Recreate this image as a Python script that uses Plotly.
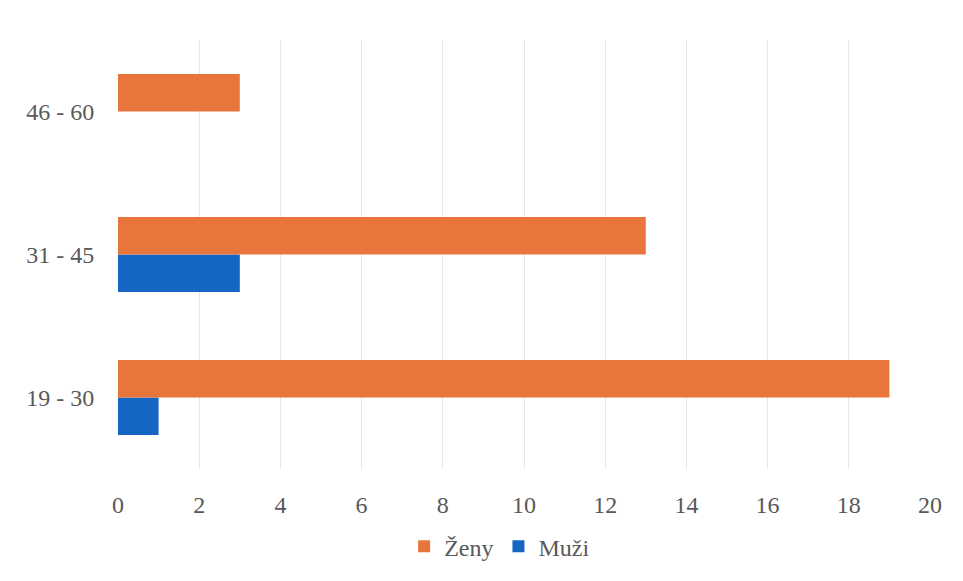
import plotly.graph_objects as go

categories = ["19 - 30", "31 - 45", "46 - 60"]
zeny = [19, 13, 3]
muzi = [1, 3, 0]
x_ticks = list(range(0, 21, 2))

font = dict(family="Liberation Serif", size=24, color="#595959")

fig = go.Figure()
fig.add_trace(go.Bar(y=categories, x=muzi, name="Muži", orientation="h",
                     marker=dict(color="#1565C2", line=dict(width=0))))
fig.add_trace(go.Bar(y=categories, x=zeny, name="Ženy", orientation="h",
                     marker=dict(color="#E8763C", line=dict(width=0))))

fig.update_layout(
    width=963, height=581,
    margin=dict(l=118, r=33, t=40, b=110),
    paper_bgcolor="white", plot_bgcolor="white",
    barmode="group", bargap=0.477, bargroupgap=0,
    font=font,
    showlegend=True,
    legend=dict(orientation="h", traceorder="reversed", x=0.47, xanchor="center",
                y=-0.181, yanchor="middle", font=font, itemwidth=30,
                bgcolor="rgba(0,0,0,0)"),
    xaxis=dict(range=[0, 20], tickvals=x_ticks, showgrid=True, gridcolor="#E6E6E6",
               gridwidth=1, zeroline=False, showline=False,
               ticks="outside", ticklen=14, tickcolor="rgba(0,0,0,0)", tickfont=font),
    yaxis=dict(categoryorder="array", categoryarray=categories, showgrid=False,
               zeroline=False, showline=False,
               ticks="outside", ticklen=18, tickcolor="rgba(0,0,0,0)", tickfont=font),
)

fig.write_html("out.html")
